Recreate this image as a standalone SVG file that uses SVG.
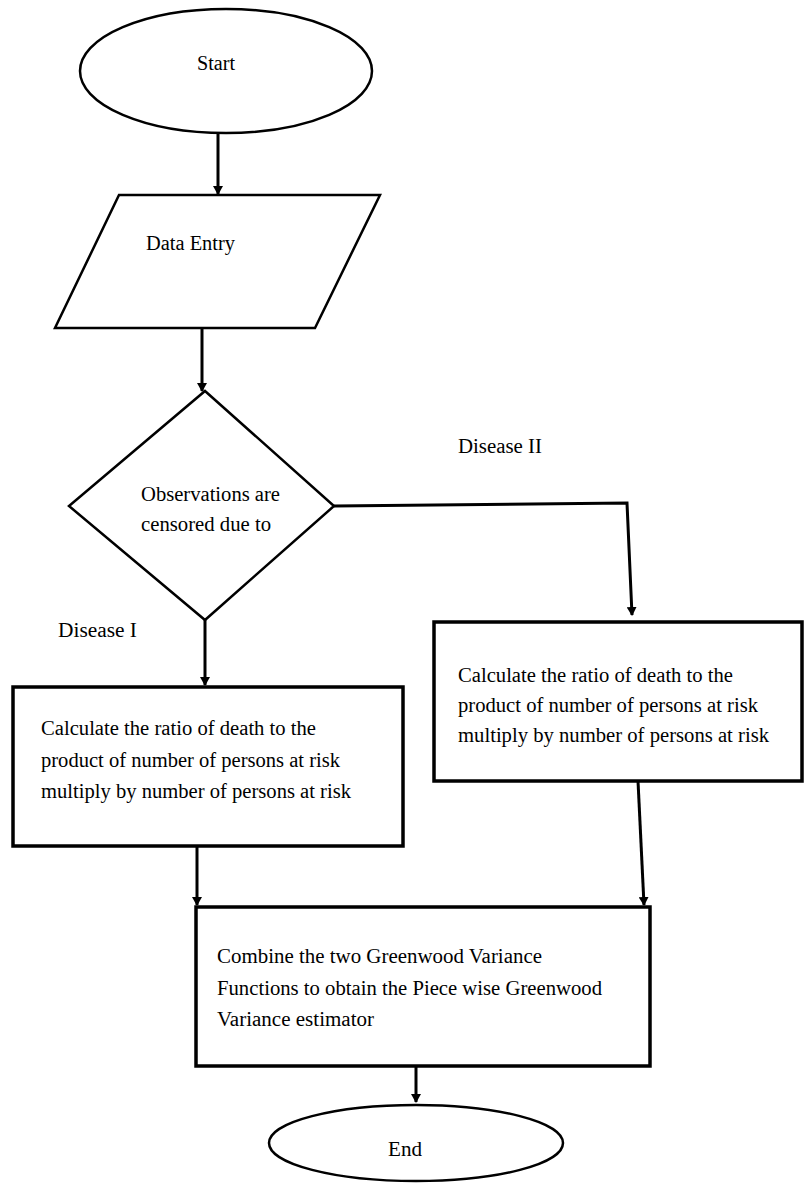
<svg xmlns="http://www.w3.org/2000/svg" width="806" height="1183" viewBox="0 0 806 1183">
<style>
.shape{fill:#fff;stroke:#000;stroke-width:2.5}
.box{fill:#fff;stroke:#000;stroke-width:3.5}
.conn{fill:none;stroke:#000;stroke-width:3}
</style>
<defs>
<marker id="arr" markerWidth="9" markerHeight="10" refX="8" refY="5" orient="auto" markerUnits="userSpaceOnUse">
<path d="M0,0 L9,5 L0,10 Z" fill="#000"/>
</marker>
</defs>
<rect width="806" height="1183" fill="#fff"/>
<g id="connectors">
<line class="conn" x1="218" y1="133" x2="218" y2="194" marker-end="url(#arr)"/>
<line class="conn" x1="202" y1="328" x2="202" y2="391" marker-end="url(#arr)"/>
<polyline class="conn" points="334,506 627,503 632,615" marker-end="url(#arr)"/>
<line class="conn" x1="205" y1="620" x2="205" y2="685" marker-end="url(#arr)"/>
<line class="conn" x1="197" y1="846" x2="197" y2="905" marker-end="url(#arr)"/>
<line class="conn" x1="638" y1="781" x2="644" y2="905" marker-end="url(#arr)"/>
<line class="conn" x1="416" y1="1066" x2="416" y2="1102" marker-end="url(#arr)"/>
</g>
<g font-family="Times New Roman, Liberation Serif, serif" font-size="20">
<g id="start">
<ellipse class="shape" cx="226" cy="71" rx="146" ry="62"/>
<text x="197" y="70" textLength="38" lengthAdjust="spacingAndGlyphs">Start</text>
</g>
<g id="data-entry">
<polygon class="shape" points="119,195 380,195 315,328 55,328"/>
<text x="146" y="250" textLength="89" lengthAdjust="spacingAndGlyphs">Data Entry</text>
</g>
<g id="decision">
<polygon class="shape" points="205,391 334,506 205,620 69,506"/>
<text x="141" y="501" textLength="139" lengthAdjust="spacingAndGlyphs">Observations are</text>
<text x="141" y="531" textLength="130" lengthAdjust="spacingAndGlyphs">censored due to</text>
</g>
<g id="label-disease-2">
<text x="458" y="453" textLength="84" lengthAdjust="spacingAndGlyphs">Disease II</text>
</g>
<g id="label-disease-1">
<text x="58" y="637" textLength="79" lengthAdjust="spacingAndGlyphs">Disease I</text>
</g>
<g id="calc-left">
<rect class="box" x="13" y="687" width="390" height="159"/>
<text x="41" y="735" textLength="275" lengthAdjust="spacingAndGlyphs">Calculate the ratio of death to the</text>
<text x="41" y="767" textLength="299" lengthAdjust="spacingAndGlyphs">product of number of persons at risk</text>
<text x="41" y="798" textLength="310" lengthAdjust="spacingAndGlyphs">multiply by number of persons at risk</text>
</g>
<g id="calc-right">
<rect class="box" x="434" y="622" width="368" height="159"/>
<text x="458" y="682" textLength="275" lengthAdjust="spacingAndGlyphs">Calculate the ratio of death to the</text>
<text x="458" y="712" textLength="300" lengthAdjust="spacingAndGlyphs">product of number of persons at risk</text>
<text x="458" y="742" textLength="311" lengthAdjust="spacingAndGlyphs">multiply by number of persons at risk</text>
</g>
<g id="combine">
<rect class="box" x="196" y="907" width="454" height="159"/>
<text x="217" y="963" textLength="325" lengthAdjust="spacingAndGlyphs">Combine the two Greenwood Variance</text>
<text x="217" y="995" textLength="385" lengthAdjust="spacingAndGlyphs">Functions to obtain the Piece wise Greenwood</text>
<text x="217" y="1026" textLength="157" lengthAdjust="spacingAndGlyphs">Variance estimator</text>
</g>
<g id="end">
<ellipse class="shape" cx="416" cy="1143" rx="147" ry="38"/>
<text x="388" y="1156" textLength="34" lengthAdjust="spacingAndGlyphs">End</text>
</g>
</g>
</svg>
